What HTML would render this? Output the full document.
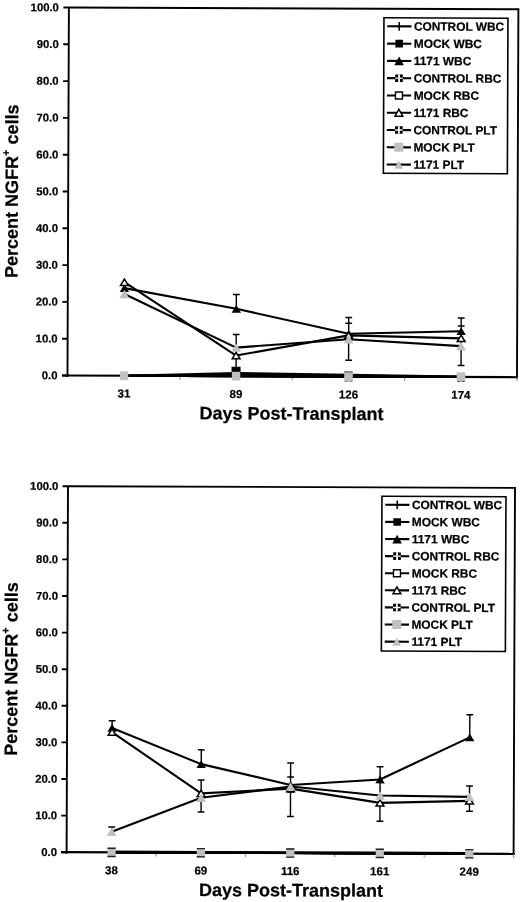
<!DOCTYPE html>
<html><head><meta charset="utf-8"><style>
html,body{margin:0;padding:0;background:#fff;}
svg{display:block;font-family:"Liberation Sans", sans-serif;filter:grayscale(1);}
text{stroke:#000;stroke-width:0.22px;}
</style></head><body>
<svg width="520" height="902" viewBox="0 0 520 902" font-family='"Liberation Sans", sans-serif' fill="#000">
<rect width="520" height="902" fill="#fff"/>
<g transform="translate(68.9,7.5) rotate(0.22)">
<path d="M0,0 H449.5 V369.1" fill="none" stroke="#000" stroke-width="1.9" stroke-linejoin="miter"/>
<line x1="0" y1="0" x2="0" y2="369.5" stroke="#000" stroke-width="1.9"/>
<line x1="-5.5" y1="368" x2="450.45" y2="368" stroke="#000" stroke-width="2.2"/>
<line x1="-5.5" y1="368" x2="0" y2="368" stroke="#000" stroke-width="1.9"/>
<text x="-10" y="371.8" text-anchor="end" font-size="11.3" font-weight="bold">0.0</text>
<line x1="-5.5" y1="331.2" x2="0" y2="331.2" stroke="#000" stroke-width="1.9"/>
<text x="-10" y="335" text-anchor="end" font-size="11.3" font-weight="bold">10.0</text>
<line x1="-5.5" y1="294.4" x2="0" y2="294.4" stroke="#000" stroke-width="1.9"/>
<text x="-10" y="298.2" text-anchor="end" font-size="11.3" font-weight="bold">20.0</text>
<line x1="-5.5" y1="257.6" x2="0" y2="257.6" stroke="#000" stroke-width="1.9"/>
<text x="-10" y="261.4" text-anchor="end" font-size="11.3" font-weight="bold">30.0</text>
<line x1="-5.5" y1="220.8" x2="0" y2="220.8" stroke="#000" stroke-width="1.9"/>
<text x="-10" y="224.6" text-anchor="end" font-size="11.3" font-weight="bold">40.0</text>
<line x1="-5.5" y1="184" x2="0" y2="184" stroke="#000" stroke-width="1.9"/>
<text x="-10" y="187.8" text-anchor="end" font-size="11.3" font-weight="bold">50.0</text>
<line x1="-5.5" y1="147.2" x2="0" y2="147.2" stroke="#000" stroke-width="1.9"/>
<text x="-10" y="151" text-anchor="end" font-size="11.3" font-weight="bold">60.0</text>
<line x1="-5.5" y1="110.4" x2="0" y2="110.4" stroke="#000" stroke-width="1.9"/>
<text x="-10" y="114.2" text-anchor="end" font-size="11.3" font-weight="bold">70.0</text>
<line x1="-5.5" y1="73.6" x2="0" y2="73.6" stroke="#000" stroke-width="1.9"/>
<text x="-10" y="77.4" text-anchor="end" font-size="11.3" font-weight="bold">80.0</text>
<line x1="-5.5" y1="36.8" x2="0" y2="36.8" stroke="#000" stroke-width="1.9"/>
<text x="-10" y="40.6" text-anchor="end" font-size="11.3" font-weight="bold">90.0</text>
<line x1="-5.5" y1="0" x2="0" y2="0" stroke="#000" stroke-width="1.9"/>
<text x="-10" y="3.8" text-anchor="end" font-size="11.3" font-weight="bold">100.0</text>
<line x1="112.38" y1="368" x2="112.38" y2="372" stroke="#888" stroke-width="1"/>
<line x1="224.75" y1="368" x2="224.75" y2="372" stroke="#888" stroke-width="1"/>
<line x1="337.12" y1="368" x2="337.12" y2="372" stroke="#888" stroke-width="1"/>
<line x1="449.5" y1="368" x2="449.5" y2="372" stroke="#888" stroke-width="1"/>
<text x="56.59" y="389.9" text-anchor="middle" font-size="11.5" font-weight="bold">31</text>
<text x="168.56" y="389.9" text-anchor="middle" font-size="11.5" font-weight="bold">89</text>
<text x="281.04" y="389.9" text-anchor="middle" font-size="11.5" font-weight="bold">126</text>
<text x="393.51" y="389.9" text-anchor="middle" font-size="11.5" font-weight="bold">174</text>
<text x="224.15" y="411.3" text-anchor="middle" font-size="18" font-weight="bold">Days Post-Transplant</text>
<text transform="translate(-50.3,184) rotate(-90)" text-anchor="middle" font-size="18" font-weight="bold">Percent NGFR<tspan font-size="11" dy="-8.3">+</tspan><tspan dy="8.3"> cells</tspan></text>

<line x1="168.56" y1="286.3" x2="168.56" y2="300.66" stroke="#000" stroke-width="1.4"/>
<line x1="165.16" y1="286.3" x2="171.96" y2="286.3" stroke="#000" stroke-width="1.5"/>
<line x1="168.56" y1="326.42" x2="168.56" y2="362.48" stroke="#000" stroke-width="1.4"/>
<line x1="165.16" y1="326.42" x2="171.96" y2="326.42" stroke="#000" stroke-width="1.5"/>
<line x1="281.04" y1="308.94" x2="281.04" y2="351.62" stroke="#000" stroke-width="1.4"/>
<line x1="277.64" y1="308.94" x2="284.44" y2="308.94" stroke="#000" stroke-width="1.5"/>
<line x1="277.64" y1="314.64" x2="284.44" y2="314.64" stroke="#000" stroke-width="1.5"/>
<line x1="277.64" y1="351.62" x2="284.44" y2="351.62" stroke="#000" stroke-width="1.5"/>
<line x1="393.51" y1="308.9" x2="393.51" y2="356.48" stroke="#000" stroke-width="1.4"/>
<line x1="390.11" y1="308.9" x2="396.91" y2="308.9" stroke="#000" stroke-width="1.5"/>
<line x1="390.11" y1="317" x2="396.91" y2="317" stroke="#000" stroke-width="1.5"/>
<line x1="390.11" y1="356.48" x2="396.91" y2="356.48" stroke="#000" stroke-width="1.5"/>
<polyline points="56.59,368 168.56,366.45 281.04,367.08 393.51,367.74" fill="none" stroke="#000" stroke-width="2.1" stroke-linejoin="round"/>




<polyline points="56.59,368 168.56,364.87 281.04,366.16 393.51,367.45" fill="none" stroke="#000" stroke-width="2.1" stroke-linejoin="round"/>




<polyline points="56.59,280.42 168.56,300.66 281.04,325.13 393.51,322.18" fill="none" stroke="#000" stroke-width="2.1" stroke-linejoin="round"/>
<polygon points="56.59,276.52 61.29,284.32 51.89,284.32" fill="#000"/>
<polygon points="168.56,296.76 173.26,304.56 163.86,304.56" fill="#000"/>
<polygon points="281.04,321.23 285.74,329.03 276.34,329.03" fill="#000"/>
<polygon points="393.51,318.28 398.21,326.08 388.81,326.08" fill="#000"/>
<polyline points="56.59,368 168.56,368 281.04,368 393.51,368" fill="none" stroke="#000" stroke-width="2.1" stroke-linejoin="round"/>




<polyline points="56.59,368 168.56,368 281.04,368 393.51,368" fill="none" stroke="#000" stroke-width="2.1" stroke-linejoin="round"/>




<polyline points="56.59,274.53 168.56,347.39 281.04,326.78 393.51,329.36" fill="none" stroke="#000" stroke-width="2.1" stroke-linejoin="round"/>
<polygon points="56.59,271.33 60.49,277.73 52.69,277.73" fill="#fff" stroke="#000" stroke-width="1.5" stroke-linejoin="miter"/>
<polygon points="168.56,344.19 172.46,350.59 164.66,350.59" fill="#fff" stroke="#000" stroke-width="1.5" stroke-linejoin="miter"/>
<polygon points="281.04,323.58 284.94,329.98 277.14,329.98" fill="#fff" stroke="#000" stroke-width="1.5" stroke-linejoin="miter"/>
<polygon points="393.51,326.16 397.41,332.56 389.61,332.56" fill="#fff" stroke="#000" stroke-width="1.5" stroke-linejoin="miter"/>
<polyline points="56.59,368 168.56,368 281.04,368 393.51,368" fill="none" stroke="#000" stroke-width="2.1" stroke-linejoin="round"/>




<polyline points="56.59,368 168.56,368 281.04,368 393.51,368" fill="none" stroke="#000" stroke-width="2.1" stroke-linejoin="round"/>




<polyline points="56.59,286.3 168.56,339.48 281.04,330.65 393.51,337.16" fill="none" stroke="#000" stroke-width="2.1" stroke-linejoin="round"/>
<polygon points="56.59,282.1 61.49,290.5 51.69,290.5" fill="#c0c0c0"/>
<polygon points="168.56,335.28 173.46,343.68 163.66,343.68" fill="#c0c0c0"/>
<polygon points="281.04,326.45 285.94,334.85 276.14,334.85" fill="#c0c0c0"/>
<polygon points="393.51,332.96 398.41,341.36 388.61,341.36" fill="#c0c0c0"/>
<rect x="164.06" y="358.58" width="9" height="7.8" fill="#000"/><rect x="164.36" y="363.7" width="8.4" height="8.6" fill="#c0c0c0"/><rect x="52.49" y="363.5" width="8.2" height="9" fill="#c0c0c0"/><rect x="277.24" y="371.4" width="3.2" height="1.6" fill="#000"/><rect x="281.64" y="371.4" width="3.2" height="1.6" fill="#000"/><rect x="389.71" y="371.4" width="3.2" height="1.6" fill="#000"/><rect x="394.11" y="371.4" width="3.2" height="1.6" fill="#000"/><rect x="276.74" y="363" width="8.6" height="9.6" fill="#c0c0c0"/><rect x="389.21" y="363.2" width="8.6" height="9.2" fill="#c0c0c0"/><rect x="276.74" y="362.8" width="8.6" height="1.2" fill="#555"/>
<rect x="315.1" y="9" width="124" height="155.5" fill="#fff" stroke="#000" stroke-width="1.6"/>
<line x1="318.4" y1="17.6" x2="342.6" y2="17.6" stroke="#000" stroke-width="2.1"/>
<line x1="330.4" y1="13.2" x2="330.4" y2="22" stroke="#000" stroke-width="1.5"/>
<text x="345.1" y="21.7" font-size="11.9" font-weight="bold">CONTROL WBC</text>
<line x1="318.4" y1="34.88" x2="342.6" y2="34.88" stroke="#000" stroke-width="2.1"/>
<rect x="326.6" y="31.08" width="7.6" height="7.6" fill="#000"/>
<text x="345.1" y="38.98" font-size="11.9" font-weight="bold">MOCK WBC</text>
<line x1="318.4" y1="52.16" x2="342.6" y2="52.16" stroke="#000" stroke-width="2.1"/>
<polygon points="330.4,47.76 335.2,56.56 325.6,56.56" fill="#000"/>
<text x="345.1" y="56.26" font-size="11.9" font-weight="bold">1171 WBC</text>
<line x1="318.4" y1="69.44" x2="342.6" y2="69.44" stroke="#000" stroke-width="2.1"/>
<rect x="326.6" y="65.64" width="7.6" height="7.6" fill="#000"/><rect x="329.5" y="65.64" width="1.8" height="7.6" fill="#fff"/><rect x="326.6" y="68.64" width="7.6" height="1.6" fill="#d8d8d8"/>
<text x="345.1" y="73.54" font-size="11.9" font-weight="bold">CONTROL RBC</text>
<line x1="318.4" y1="86.72" x2="342.6" y2="86.72" stroke="#000" stroke-width="2.1"/>
<rect x="326.9" y="83.22" width="7" height="7" fill="#fff" stroke="#000" stroke-width="1.4"/>
<text x="345.1" y="90.82" font-size="11.9" font-weight="bold">MOCK RBC</text>
<line x1="318.4" y1="104" x2="342.6" y2="104" stroke="#000" stroke-width="2.1"/>
<polygon points="330.4,100.55 334.3,107.45 326.5,107.45" fill="#fff" stroke="#000" stroke-width="1.5" stroke-linejoin="miter"/>
<text x="345.1" y="108.1" font-size="11.9" font-weight="bold">1171 RBC</text>
<line x1="318.4" y1="121.28" x2="342.6" y2="121.28" stroke="#000" stroke-width="2.1"/>
<rect x="326.6" y="117.48" width="7.6" height="7.6" fill="#000"/><rect x="329.5" y="117.48" width="1.8" height="7.6" fill="#fff"/><rect x="326.6" y="120.48" width="7.6" height="1.6" fill="#fff"/>
<text x="345.1" y="125.38" font-size="11.9" font-weight="bold">CONTROL PLT</text>
<line x1="318.4" y1="138.56" x2="342.6" y2="138.56" stroke="#000" stroke-width="2.1"/>
<rect x="325.9" y="134.06" width="9" height="9" fill="#c0c0c0"/>
<text x="345.1" y="142.66" font-size="11.9" font-weight="bold">MOCK PLT</text>
<line x1="318.4" y1="155.84" x2="342.6" y2="155.84" stroke="#000" stroke-width="2.1"/>
<polygon points="330.4,151.74 334.7,159.94 326.1,159.94" fill="#c0c0c0"/>
<text x="345.1" y="159.94" font-size="11.9" font-weight="bold">1171 PLT</text>
</g>
<g transform="translate(68,486.2) rotate(0.22)">
<path d="M0,0 H447 V367.1" fill="none" stroke="#000" stroke-width="1.9" stroke-linejoin="miter"/>
<line x1="0" y1="0" x2="0" y2="367.5" stroke="#000" stroke-width="1.9"/>
<line x1="-5.5" y1="366" x2="447.95" y2="366" stroke="#000" stroke-width="2.2"/>
<line x1="-5.5" y1="366" x2="0" y2="366" stroke="#000" stroke-width="1.9"/>
<text x="-9.6" y="369.8" text-anchor="end" font-size="11.3" font-weight="bold">0.0</text>
<line x1="-5.5" y1="329.4" x2="0" y2="329.4" stroke="#000" stroke-width="1.9"/>
<text x="-9.6" y="333.2" text-anchor="end" font-size="11.3" font-weight="bold">10.0</text>
<line x1="-5.5" y1="292.8" x2="0" y2="292.8" stroke="#000" stroke-width="1.9"/>
<text x="-9.6" y="296.6" text-anchor="end" font-size="11.3" font-weight="bold">20.0</text>
<line x1="-5.5" y1="256.2" x2="0" y2="256.2" stroke="#000" stroke-width="1.9"/>
<text x="-9.6" y="260" text-anchor="end" font-size="11.3" font-weight="bold">30.0</text>
<line x1="-5.5" y1="219.6" x2="0" y2="219.6" stroke="#000" stroke-width="1.9"/>
<text x="-9.6" y="223.4" text-anchor="end" font-size="11.3" font-weight="bold">40.0</text>
<line x1="-5.5" y1="183" x2="0" y2="183" stroke="#000" stroke-width="1.9"/>
<text x="-9.6" y="186.8" text-anchor="end" font-size="11.3" font-weight="bold">50.0</text>
<line x1="-5.5" y1="146.4" x2="0" y2="146.4" stroke="#000" stroke-width="1.9"/>
<text x="-9.6" y="150.2" text-anchor="end" font-size="11.3" font-weight="bold">60.0</text>
<line x1="-5.5" y1="109.8" x2="0" y2="109.8" stroke="#000" stroke-width="1.9"/>
<text x="-9.6" y="113.6" text-anchor="end" font-size="11.3" font-weight="bold">70.0</text>
<line x1="-5.5" y1="73.2" x2="0" y2="73.2" stroke="#000" stroke-width="1.9"/>
<text x="-9.6" y="77" text-anchor="end" font-size="11.3" font-weight="bold">80.0</text>
<line x1="-5.5" y1="36.6" x2="0" y2="36.6" stroke="#000" stroke-width="1.9"/>
<text x="-9.6" y="40.4" text-anchor="end" font-size="11.3" font-weight="bold">90.0</text>
<line x1="-5.5" y1="0" x2="0" y2="0" stroke="#000" stroke-width="1.9"/>
<text x="-9.6" y="3.8" text-anchor="end" font-size="11.3" font-weight="bold">100.0</text>
<line x1="89.4" y1="366" x2="89.4" y2="370" stroke="#888" stroke-width="1"/>
<line x1="178.8" y1="366" x2="178.8" y2="370" stroke="#888" stroke-width="1"/>
<line x1="268.2" y1="366" x2="268.2" y2="370" stroke="#888" stroke-width="1"/>
<line x1="357.6" y1="366" x2="357.6" y2="370" stroke="#888" stroke-width="1"/>
<line x1="447" y1="366" x2="447" y2="370" stroke="#888" stroke-width="1"/>
<text x="45" y="387.9" text-anchor="middle" font-size="11.5" font-weight="bold">38</text>
<text x="134.3" y="387.9" text-anchor="middle" font-size="11.5" font-weight="bold">69</text>
<text x="223.7" y="387.9" text-anchor="middle" font-size="11.5" font-weight="bold">116</text>
<text x="313.2" y="387.9" text-anchor="middle" font-size="11.5" font-weight="bold">161</text>
<text x="402.7" y="387.9" text-anchor="middle" font-size="11.5" font-weight="bold">249</text>
<text x="224.5" y="409.3" text-anchor="middle" font-size="18" font-weight="bold">Days Post-Transplant</text>
<text transform="translate(-49.9,183) rotate(-90)" text-anchor="middle" font-size="18" font-weight="bold">Percent NGFR<tspan font-size="11" dy="-8.3">+</tspan><tspan dy="8.3"> cells</tspan></text>

<line x1="45" y1="234.42" x2="45" y2="241.56" stroke="#000" stroke-width="1.4"/>
<line x1="41.6" y1="234.42" x2="48.4" y2="234.42" stroke="#000" stroke-width="1.5"/>
<line x1="45" y1="340.64" x2="45" y2="345.32" stroke="#000" stroke-width="1.4"/>
<line x1="41.6" y1="340.64" x2="48.4" y2="340.64" stroke="#000" stroke-width="1.5"/>
<line x1="134.3" y1="263.15" x2="134.3" y2="277.43" stroke="#000" stroke-width="1.4"/>
<line x1="130.9" y1="263.15" x2="137.7" y2="263.15" stroke="#000" stroke-width="1.5"/>
<line x1="134.3" y1="293.31" x2="134.3" y2="325.3" stroke="#000" stroke-width="1.4"/>
<line x1="130.9" y1="293.31" x2="137.7" y2="293.31" stroke="#000" stroke-width="1.5"/>
<line x1="130.9" y1="325.3" x2="137.7" y2="325.3" stroke="#000" stroke-width="1.5"/>
<line x1="223.7" y1="275.85" x2="223.7" y2="329.4" stroke="#000" stroke-width="1.4"/>
<line x1="220.3" y1="275.85" x2="227.1" y2="275.85" stroke="#000" stroke-width="1.5"/>
<line x1="220.3" y1="289.95" x2="227.1" y2="289.95" stroke="#000" stroke-width="1.5"/>
<line x1="220.3" y1="304.88" x2="227.1" y2="304.88" stroke="#000" stroke-width="1.5"/>
<line x1="220.3" y1="329.4" x2="227.1" y2="329.4" stroke="#000" stroke-width="1.5"/>
<line x1="313.2" y1="279.26" x2="313.2" y2="333.9" stroke="#000" stroke-width="1.4"/>
<line x1="309.8" y1="279.26" x2="316.6" y2="279.26" stroke="#000" stroke-width="1.5"/>
<line x1="309.8" y1="333.9" x2="316.6" y2="333.9" stroke="#000" stroke-width="1.5"/>
<line x1="402.7" y1="226.92" x2="402.7" y2="249.61" stroke="#000" stroke-width="1.4"/>
<line x1="399.3" y1="226.92" x2="406.1" y2="226.92" stroke="#000" stroke-width="1.5"/>
<line x1="402.7" y1="298.29" x2="402.7" y2="323.54" stroke="#000" stroke-width="1.4"/>
<line x1="399.3" y1="298.29" x2="406.1" y2="298.29" stroke="#000" stroke-width="1.5"/>
<line x1="399.3" y1="323.54" x2="406.1" y2="323.54" stroke="#000" stroke-width="1.5"/>
<polyline points="45,366 134.3,366 223.7,366 313.2,366 402.7,366" fill="none" stroke="#000" stroke-width="2.1" stroke-linejoin="round"/>





<polyline points="45,365.27 134.3,365.27 223.7,365.27 313.2,365.27 402.7,365.27" fill="none" stroke="#000" stroke-width="2.1" stroke-linejoin="round"/>





<polyline points="45,241.56 134.3,277.43 223.7,297.92 313.2,292.07 402.7,249.61" fill="none" stroke="#000" stroke-width="2.1" stroke-linejoin="round"/>
<polygon points="45,237.66 49.7,245.46 40.3,245.46" fill="#000"/>
<polygon points="134.3,273.53 139,281.33 129.6,281.33" fill="#000"/>
<polygon points="223.7,294.02 228.4,301.82 219,301.82" fill="#000"/>
<polygon points="313.2,288.17 317.9,295.97 308.5,295.97" fill="#000"/>
<polygon points="402.7,245.71 407.4,253.51 398,253.51" fill="#000"/>
<polyline points="45,366 134.3,366 223.7,366 313.2,366 402.7,366" fill="none" stroke="#000" stroke-width="2.1" stroke-linejoin="round"/>





<polyline points="45,366 134.3,366 223.7,366 313.2,366 402.7,366" fill="none" stroke="#000" stroke-width="2.1" stroke-linejoin="round"/>





<polyline points="45,245.77 134.3,306.71 223.7,301.58 313.2,315.49 402.7,313.11" fill="none" stroke="#000" stroke-width="2.1" stroke-linejoin="round"/>
<polygon points="45,242.57 48.9,248.97 41.1,248.97" fill="#fff" stroke="#000" stroke-width="1.5" stroke-linejoin="miter"/>
<polygon points="134.3,303.51 138.2,309.91 130.4,309.91" fill="#fff" stroke="#000" stroke-width="1.5" stroke-linejoin="miter"/>
<polygon points="223.7,298.38 227.6,304.78 219.8,304.78" fill="#fff" stroke="#000" stroke-width="1.5" stroke-linejoin="miter"/>
<polygon points="313.2,312.29 317.1,318.69 309.3,318.69" fill="#fff" stroke="#000" stroke-width="1.5" stroke-linejoin="miter"/>
<polygon points="402.7,309.91 406.6,316.31 398.8,316.31" fill="#fff" stroke="#000" stroke-width="1.5" stroke-linejoin="miter"/>
<polyline points="45,366 134.3,366 223.7,366 313.2,366 402.7,366" fill="none" stroke="#000" stroke-width="2.1" stroke-linejoin="round"/>





<polyline points="45,366 134.3,366 223.7,366 313.2,366 402.7,366" fill="none" stroke="#000" stroke-width="2.1" stroke-linejoin="round"/>





<polyline points="45,345.32 134.3,311.1 223.7,299.39 313.2,308.17 402.7,309.09" fill="none" stroke="#000" stroke-width="2.1" stroke-linejoin="round"/>
<polygon points="45,341.12 49.9,349.52 40.1,349.52" fill="#c0c0c0"/>
<polygon points="134.3,306.9 139.2,315.3 129.4,315.3" fill="#c0c0c0"/>
<polygon points="223.7,295.19 228.6,303.59 218.8,303.59" fill="#c0c0c0"/>
<polygon points="313.2,303.97 318.1,312.37 308.3,312.37" fill="#c0c0c0"/>
<polygon points="402.7,304.89 407.6,313.29 397.8,313.29" fill="#c0c0c0"/>
<rect x="40.9" y="361.3" width="8.2" height="9.4" fill="#c0c0c0"/><rect x="40.9" y="361.2" width="8.2" height="1.4" fill="#222"/><rect x="40.9" y="369.4" width="8.2" height="1.4" fill="#222"/><rect x="130.2" y="361.3" width="8.2" height="9.4" fill="#c0c0c0"/><rect x="130.2" y="361.2" width="8.2" height="1.4" fill="#222"/><rect x="130.2" y="369.4" width="8.2" height="1.4" fill="#222"/><rect x="219.6" y="361.3" width="8.2" height="9.4" fill="#c0c0c0"/><rect x="219.6" y="361.2" width="8.2" height="1.4" fill="#222"/><rect x="219.6" y="369.4" width="8.2" height="1.4" fill="#222"/><rect x="309.1" y="361.3" width="8.2" height="9.4" fill="#c0c0c0"/><rect x="309.1" y="361.2" width="8.2" height="1.4" fill="#222"/><rect x="309.1" y="369.4" width="8.2" height="1.4" fill="#222"/><rect x="398.6" y="361.3" width="8.2" height="9.4" fill="#c0c0c0"/><rect x="398.6" y="361.2" width="8.2" height="1.4" fill="#222"/><rect x="398.6" y="369.4" width="8.2" height="1.4" fill="#222"/>
<rect x="314" y="8.8" width="124" height="154.8" fill="#fff" stroke="#000" stroke-width="1.6"/>
<line x1="317.3" y1="17.4" x2="341.5" y2="17.4" stroke="#000" stroke-width="2.1"/>
<line x1="329.3" y1="13" x2="329.3" y2="21.8" stroke="#000" stroke-width="1.5"/>
<text x="344" y="21.5" font-size="11.9" font-weight="bold">CONTROL WBC</text>
<line x1="317.3" y1="34.5" x2="341.5" y2="34.5" stroke="#000" stroke-width="2.1"/>
<rect x="325.5" y="30.7" width="7.6" height="7.6" fill="#000"/>
<text x="344" y="38.6" font-size="11.9" font-weight="bold">MOCK WBC</text>
<line x1="317.3" y1="51.6" x2="341.5" y2="51.6" stroke="#000" stroke-width="2.1"/>
<polygon points="329.3,47.2 334.1,56 324.5,56" fill="#000"/>
<text x="344" y="55.7" font-size="11.9" font-weight="bold">1171 WBC</text>
<line x1="317.3" y1="68.7" x2="341.5" y2="68.7" stroke="#000" stroke-width="2.1"/>
<rect x="325.5" y="64.9" width="7.6" height="7.6" fill="#000"/><rect x="328.4" y="64.9" width="1.8" height="7.6" fill="#fff"/><rect x="325.5" y="67.9" width="7.6" height="1.6" fill="#d8d8d8"/>
<text x="344" y="72.8" font-size="11.9" font-weight="bold">CONTROL RBC</text>
<line x1="317.3" y1="85.8" x2="341.5" y2="85.8" stroke="#000" stroke-width="2.1"/>
<rect x="325.8" y="82.3" width="7" height="7" fill="#fff" stroke="#000" stroke-width="1.4"/>
<text x="344" y="89.9" font-size="11.9" font-weight="bold">MOCK RBC</text>
<line x1="317.3" y1="102.9" x2="341.5" y2="102.9" stroke="#000" stroke-width="2.1"/>
<polygon points="329.3,99.45 333.2,106.35 325.4,106.35" fill="#fff" stroke="#000" stroke-width="1.5" stroke-linejoin="miter"/>
<text x="344" y="107" font-size="11.9" font-weight="bold">1171 RBC</text>
<line x1="317.3" y1="120" x2="341.5" y2="120" stroke="#000" stroke-width="2.1"/>
<rect x="325.5" y="116.2" width="7.6" height="7.6" fill="#000"/><rect x="328.4" y="116.2" width="1.8" height="7.6" fill="#fff"/><rect x="325.5" y="119.2" width="7.6" height="1.6" fill="#fff"/>
<text x="344" y="124.1" font-size="11.9" font-weight="bold">CONTROL PLT</text>
<line x1="317.3" y1="137.1" x2="341.5" y2="137.1" stroke="#000" stroke-width="2.1"/>
<rect x="324.8" y="132.6" width="9" height="9" fill="#c0c0c0"/>
<text x="344" y="141.2" font-size="11.9" font-weight="bold">MOCK PLT</text>
<line x1="317.3" y1="154.2" x2="341.5" y2="154.2" stroke="#000" stroke-width="2.1"/>
<polygon points="329.3,150.1 333.6,158.3 325,158.3" fill="#c0c0c0"/>
<text x="344" y="158.3" font-size="11.9" font-weight="bold">1171 PLT</text>
</g>
</svg></body></html>
